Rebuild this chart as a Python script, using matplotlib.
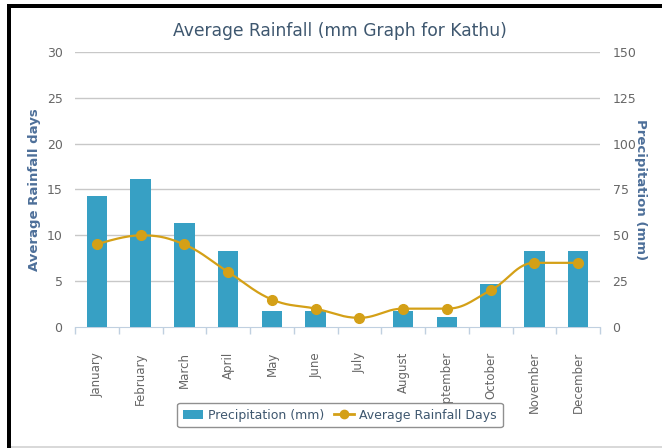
import numpy as np
import matplotlib
matplotlib.use("Agg")
import matplotlib.pyplot as plt
from matplotlib.patches import Rectangle
from matplotlib.lines import Line2D

months = ["January", "February", "March", "April", "May", "June", "July",
          "August", "September", "October", "November", "December"]
precip_mm = [71.5, 80.5, 56.5, 41.5, 8.5, 8.5, 0, 8.5, 5.5, 23.5, 41.5, 41.5]
rain_days = [9, 10, 9, 6, 3, 2, 1, 2, 2, 4, 7, 7]
left_ticks = [0, 5, 10, 15, 20, 25, 30]
right_ticks = [0, 25, 50, 75, 100, 125, 150]

W, H = 662, 448
fig = plt.figure(figsize=(W / 100, H / 100), dpi=100)
plt.rcParams['font.family'] = ['DejaVu Sans']

BAR_C = '#37a0c4'
LINE_C = '#d4a017'
TITLE_C = '#3e576f'
AXT_C = '#4d6f99'
TICK_C = '#666666'


def spline(xs, ys, n=30, smoothing=1.5):
    """Highcharts-style spline through the points."""
    xs = list(map(float, xs)); ys = list(map(float, ys))
    m = len(xs)
    lc = [(xs[i], ys[i]) for i in range(m)]
    rc = [(xs[i], ys[i]) for i in range(m)]
    d = smoothing + 1
    for i in range(1, m - 1):
        px, py = xs[i], ys[i]
        lx, ly = xs[i - 1], ys[i - 1]
        nx, ny = xs[i + 1], ys[i + 1]
        lcx = (smoothing * px + lx) / d
        lcy = (smoothing * py + ly) / d
        rcx = (smoothing * px + nx) / d
        rcy = (smoothing * py + ny) / d
        if rcx != lcx:
            corr = ((rcy - lcy) * (rcx - px)) / (rcx - lcx) + py - rcy
            lcy += corr
            rcy += corr
        if lcy > ly and lcy > py:
            lcy = max(ly, py); rcy = 2 * py - lcy
        elif lcy < ly and lcy < py:
            lcy = min(ly, py); rcy = 2 * py - lcy
        if rcy > ny and rcy > py:
            rcy = max(ny, py); lcy = 2 * py - rcy
        elif rcy < ny and rcy < py:
            rcy = min(ny, py); lcy = 2 * py - rcy
        lc[i] = (lcx, lcy)
        rc[i] = (rcx, rcy)
    t = np.linspace(0, 1, n)
    ox, oy = [], []
    for i in range(m - 1):
        p0 = np.array([xs[i], ys[i]])
        p1 = np.array(rc[i])
        p2 = np.array(lc[i + 1])
        p3 = np.array([xs[i + 1], ys[i + 1]])
        b = ((1 - t) ** 3)[:, None] * p0 + (3 * (1 - t) ** 2 * t)[:, None] * p1 \
            + (3 * (1 - t) * t ** 2)[:, None] * p2 + (t ** 3)[:, None] * p3
        ox.extend(b[:, 0]); oy.extend(b[:, 1])
    return np.array(ox), np.array(oy)


ax = fig.add_axes([75 / W, (H - 327) / H, 525 / W, 275 / H])
ax2 = ax.twinx()

x = np.arange(len(months))
# bars on the mm scale
bars = ax.bar(x, precip_mm, width=0.47, color=BAR_C, zorder=3,
              label='Precipitation (mm)')
ax.set_ylim(0, 150)
ax.set_xlim(-0.5, len(months) - 0.5)
ax.set_yticks(right_ticks)
for v in right_ticks[1:]:
    ax.axhline(v, color='#c8c8c8', lw=1, zorder=1)

# line on the days scale
sx, sy = spline(x, rain_days)
ax2.plot(sx, sy, color=LINE_C, lw=1.6, zorder=4)
ax2.plot(x, rain_days, 'o', color=LINE_C, ms=7, zorder=5)
ax2.set_ylim(0, 30)
ax2.set_yticks(left_ticks)

# put days axis on left, mm on right
ax2.yaxis.tick_left()
ax2.yaxis.set_label_position('left')
ax.yaxis.tick_right()
ax.yaxis.set_label_position('right')

for a in (ax, ax2):
    for s in a.spines.values():
        s.set_visible(False)
    a.tick_params(axis='y', length=0, labelsize=9, labelcolor=TICK_C, pad=9)
    a.patch.set_visible(False)
ax2.tick_params(axis='x', which='both', length=0, labelbottom=False)

ax.spines['bottom'].set_visible(True)
ax.spines['bottom'].set_color('#c0d0e0')
ax.set_xticks(x)
ax.set_xticklabels(months, rotation=90, ha='center', va='top')
ax.set_xticks(np.arange(-0.5, len(months)), minor=True)
ax.tick_params(axis='x', which='major', length=0, labelsize=8.5,
               labelcolor=TICK_C, pad=18)
ax.tick_params(axis='x', which='minor', length=5, color='#c0d0e0', width=1)

ax2.set_ylabel('Average Rainfall days', color=AXT_C, fontsize=9.5,
               fontweight='bold', labelpad=4)
ax.set_ylabel('Precipitation (mm)', color=AXT_C, fontsize=9.5,
              fontweight='bold', rotation=-90, labelpad=8)

fig.text(340 / W, 1 - 31 / H, 'Average Rainfall (mm Graph for Kathu)',
         ha='center', va='center', fontsize=12.3, color=TITLE_C)

line_handle = Line2D([], [], color=LINE_C, lw=2, marker='o', ms=6)
leg = fig.legend([bars, line_handle], ['Precipitation (mm)', 'Average Rainfall Days'],
                 loc='center', bbox_to_anchor=(340 / W, 1 - 415 / H),
                 ncol=2, frameon=True, fontsize=9, labelcolor=TITLE_C,
                 edgecolor='#909090', facecolor='white', fancybox=True,
                 handlelength=1.6, handletextpad=0.4, columnspacing=0.8,
                 borderpad=0.45)
leg.get_frame().set_linewidth(1)
leg.get_frame().set_alpha(1)

# image frame
fig.add_artist(Rectangle((7 / W, 0), 4 / W, 1 - 4.5 / H, transform=fig.transFigure,
                         color='black', lw=0))
fig.add_artist(Rectangle((7 / W, 1 - 8 / H), 1 - 7 / W, 3.5 / H, transform=fig.transFigure,
                         color='black', lw=0))
fig.add_artist(Rectangle((11 / W, 0), 1, 2 / H, transform=fig.transFigure,
                         color='#d9d9d9', lw=0))

fig.savefig('out.png', dpi=100, facecolor='white')
